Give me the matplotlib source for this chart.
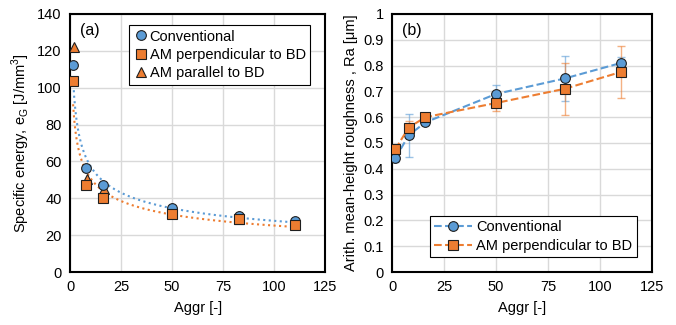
import numpy as np
import matplotlib
matplotlib.use('Agg')
import matplotlib.pyplot as plt

plt.rcParams['font.family'] = ['Liberation Sans', 'DejaVu Sans']
plt.rcParams['font.size'] = 10

# Aggr values
aggr = [1.5, 8, 16, 50, 83, 110]

# (a) specific energy [J/mm3]
e_conv = [112.5, 56.5, 47, 35, 30.5, 27.5]
e_perp = [103.5, 47, 40, 31.5, 28.5, 25.5]
aggr_par = [2, 8.5, 16.5, 50, 83, 110]
e_par = [122, 50.5, 45, 32.5, 29, 26.5]

# (b) roughness Ra [um] with error bars
ra_conv = [0.44, 0.53, 0.58, 0.69, 0.75, 0.81]
ra_conv_err = [0.015, 0.083, 0.01, 0.033, 0.088, 0.022]
ra_perp = [0.475, 0.56, 0.60, 0.655, 0.71, 0.775]
ra_perp_err = [0.01, 0.025, 0.01, 0.03, 0.1, 0.1]

blue = '#5B9BD5'
orange = '#ED7D31'
edge = '#1f1f1f'

fig = plt.figure(figsize=(6.76, 3.25), dpi=100)
ax1 = fig.add_axes([0.1036, 0.163, 0.3774, 0.794])
ax2 = fig.add_axes([0.580, 0.163, 0.3845, 0.794])

for ax in (ax1, ax2):
    ax.grid(True, color='#d9d9d9', linewidth=1)
    ax.set_axisbelow(True)
    for s in ax.spines.values():
        s.set_linewidth(1.5)
        s.set_color('black')
    ax.tick_params(length=0, labelsize=10.5, pad=6)
    ax.set_xlim(0, 125)
    ax.set_xticks([0, 25, 50, 75, 100, 125])
    ax.set_xlabel('Aggr [-]', fontsize=10.5, labelpad=5)

# power-law trend lines
def power_fit(x, y):
    b, loga = np.polyfit(np.log(x), np.log(y), 1)
    xs = np.linspace(min(x), max(x), 200)
    return xs, np.exp(loga) * xs ** b

xs, ys = power_fit(aggr, e_conv)
ax1.plot(xs, ys, ':', color=blue, linewidth=1.5, zorder=2)
xs, ys = power_fit(aggr, e_perp)
ax1.plot(xs, ys, ':', color=orange, linewidth=1.5, zorder=2)

ax1.plot(aggr, e_conv, 'o', color=blue, markeredgecolor=edge, markeredgewidth=0.8,
         markersize=7, label='Conventional', zorder=4)
ax1.plot(aggr, e_perp, 's', color=orange, markeredgecolor=edge, markeredgewidth=0.8,
         markersize=7, label='AM perpendicular to BD', zorder=5)
ax1.plot(aggr_par, e_par, '^', color=orange, markeredgecolor=edge, markeredgewidth=0.8,
         markersize=6.5, label='AM parallel to BD', zorder=3)

ax1.set_ylim(0, 140)
ax1.set_yticks(range(0, 141, 20))
ax1.set_ylabel('Specific energy, e$_\\mathregular{G}$ [J/mm$^\\mathregular{3}$]', fontsize=10.5)
ax1.text(0.04, 0.965, '(a)', transform=ax1.transAxes, fontsize=11.5, va='top')
leg1 = ax1.legend(loc='upper right', fontsize=10.5, handletextpad=0.1, handlelength=1.0,
                  borderpad=0.3, labelspacing=0.3, fancybox=False, framealpha=1,
                  bbox_to_anchor=(0.97, 0.985))
leg1.get_frame().set_edgecolor('black')
leg1.get_frame().set_linewidth(0.8)

# (b)
ax2.errorbar(aggr, ra_conv, yerr=ra_conv_err, fmt='none', ecolor=blue, alpha=0.6,
             elinewidth=1, capsize=3, zorder=2)
ax2.errorbar(aggr, ra_perp, yerr=ra_perp_err, fmt='none', ecolor=orange, alpha=0.6,
             elinewidth=1, capsize=3, zorder=2)
ax2.plot(aggr, ra_conv, '--o', color=blue, markerfacecolor=blue, markeredgecolor=edge,
         markeredgewidth=0.8, markersize=7, linewidth=1.5, label='Conventional', zorder=3)
ax2.plot(aggr, ra_perp, '--s', color=orange, markerfacecolor=orange, markeredgecolor=edge,
         markeredgewidth=0.8, markersize=7, linewidth=1.5, label='AM perpendicular to BD', zorder=4)

ax2.set_ylim(0, 1)
ax2.set_yticks(np.arange(0, 1.01, 0.1))
ax2.set_yticklabels(['0', '0.1', '0.2', '0.3', '0.4', '0.5', '0.6', '0.7', '0.8', '0.9', '1'])
ax2.set_ylabel('Arith. mean-height roughness , Ra [μm]', fontsize=10.5)
ax2.text(0.04, 0.965, '(b)', transform=ax2.transAxes, fontsize=11.5, va='top')
leg2 = ax2.legend(loc='lower right', fontsize=10.5, handletextpad=0.3, handlelength=2.6,
                  borderpad=0.3, labelspacing=0.3, fancybox=False, framealpha=1,
                  bbox_to_anchor=(0.97, 0.03))
leg2.get_frame().set_edgecolor('black')
leg2.get_frame().set_linewidth(0.8)

fig.savefig('out.png', dpi=100)
